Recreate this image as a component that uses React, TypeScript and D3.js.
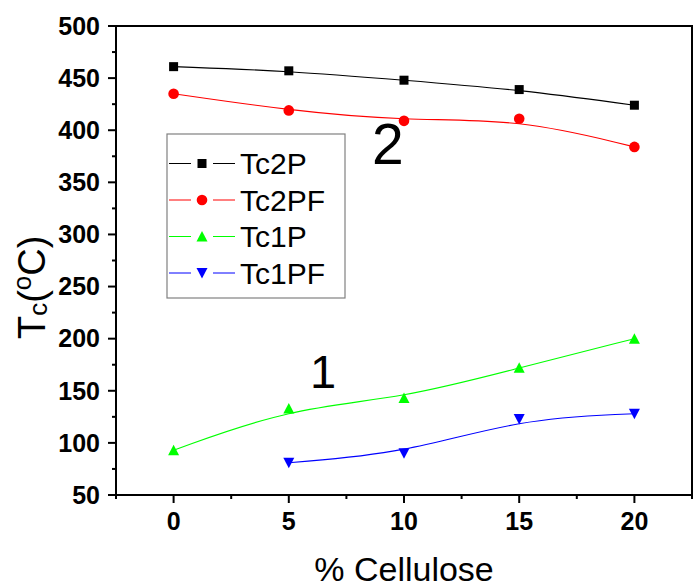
import React from "react";
import * as d3 from "d3";

const xCats = [0, 5, 10, 15, 20];
const tc2P = [461, 457, 448, 439, 424];
const tc2PF = [435, 419, 409, 411, 384];
const tc1P = [93, 133, 143, 172, 200];
const tc1PFx = [5, 10, 15, 20];
const tc1PF = [81, 90, 123, 128];
const xMajor = [0, 5, 10, 15, 20];
const xMinor = [-2.5, 2.5, 7.5, 12.5, 17.5, 22.5];
const yMajor = [50, 100, 150, 200, 250, 300, 350, 400, 450, 500];
const yMinor = [75, 125, 175, 225, 275, 325, 375, 425, 475];
const legendNames = ["Tc2P", "Tc2PF", "Tc1P", "Tc1PF"];

const W = 697;
const H = 587;
const L = 116, R = 692, T = 26, B = 495;
const FONT = "'Liberation Sans', Arial, Helvetica, sans-serif";

type Shape = "square" | "circle" | "up" | "down";

function Marker({ shape, x, y, color }: { shape: Shape; x: number; y: number; color: string }) {
  if (shape === "square") return <rect x={x - 4.5} y={y - 4.5} width={9} height={9} fill={color} />;
  if (shape === "circle") return <circle cx={x} cy={y} r={5.3} fill={color} />;
  if (shape === "up")
    return <path d={`M${x - 5.5},${y + 5} L${x + 5.5},${y + 5} L${x},${y - 5.5} Z`} fill={color} />;
  return <path d={`M${x - 5.5},${y - 5} L${x + 5.5},${y - 5} L${x},${y + 5.5} Z`} fill={color} />;
}

export default function App() {
  const xs = d3.scaleLinear().domain([-2.5, 22.5]).range([L, R]);
  const ys = d3.scaleLinear().domain([50, 500]).range([B, T]);
  const line = d3
    .line<[number, number]>()
    .x((d) => xs(d[0]))
    .y((d) => ys(d[1]))
    .curve(d3.curveBasis);

  const series: { name: string; xv: number[]; yv: number[]; color: string; shape: Shape }[] = [
    { name: legendNames[0], xv: xCats, yv: tc2P, color: "#000000", shape: "square" },
    { name: legendNames[1], xv: xCats, yv: tc2PF, color: "#ff0000", shape: "circle" },
    { name: legendNames[2], xv: xCats, yv: tc1P, color: "#00ff00", shape: "up" },
    { name: legendNames[3], xv: tc1PFx, yv: tc1PF, color: "#0000ff", shape: "down" },
  ];

  const legX = 167, legY = 134, legW = 178, legH = 164;

  return (
    <svg
      width={W}
      height={H}
      style={{ position: "absolute", left: 0, top: 0, background: "#fff" }}
      fontFamily={FONT}
    >
      <rect x={0} y={0} width={W} height={H} fill="#fff" />
      {/* data */}
      {series.map((s) => {
        const pts: [number, number][] = s.xv.map((v, i) => [v, s.yv[i]]);
        return (
          <g key={s.name}>
            <path d={line(pts) || ""} fill="none" stroke={s.color} strokeWidth={1.1} />
            {pts.map((p, i) => (
              <Marker key={i} shape={s.shape} x={xs(p[0])} y={ys(p[1])} color={s.color} />
            ))}
          </g>
        );
      })}
      {/* frame */}
      <rect x={L} y={T} width={R - L} height={B - T} fill="none" stroke="#000" strokeWidth={2} />
      {/* x ticks */}
      {xMajor.map((v) => (
        <g key={"xm" + v}>
          <line x1={xs(v)} x2={xs(v)} y1={B} y2={B + 8} stroke="#000" strokeWidth={2} />
          <text x={xs(v)} y={530} textAnchor="middle" fontSize={25} fontWeight="bold">
            {v}
          </text>
        </g>
      ))}
      {xMinor.map((v) => (
        <line key={"xn" + v} x1={xs(v)} x2={xs(v)} y1={B} y2={B + 4} stroke="#000" strokeWidth={2} />
      ))}
      {/* y ticks */}
      {yMajor.map((v) => (
        <g key={"ym" + v}>
          <line x1={L - 8} x2={L} y1={ys(v)} y2={ys(v)} stroke="#000" strokeWidth={2} />
          <text x={100} y={ys(v) + 8.8} textAnchor="end" fontSize={25} fontWeight="bold">
            {v}
          </text>
        </g>
      ))}
      {yMinor.map((v) => (
        <line key={"yn" + v} x1={L - 4} x2={L} y1={ys(v)} y2={ys(v)} stroke="#000" strokeWidth={2} />
      ))}
      {/* axis titles */}
      <text x={(L + R) / 2} y={581} textAnchor="middle" fontSize={34}>
        % Cellulose
      </text>
      <text transform="translate(45,339) rotate(-90)" fontSize={38}>
        <tspan>T</tspan>
        <tspan fontSize={26} dy={2}>c</tspan>
        <tspan fontSize={38} dy={-2}>(</tspan>
        <tspan fontSize={26} dy={-14}>o</tspan>
        <tspan fontSize={38} dy={14}>C)</tspan>
      </text>
      {/* annotations */}
      <text x={372} y={164} fontSize={57}>2</text>
      <text x={310} y={388} fontSize={47}>1</text>
      {/* legend */}
      <rect x={legX} y={legY} width={legW} height={legH} fill="#fff" stroke="#808080" strokeWidth={1.2} />
      {series.map((s, i) => {
        const cy = 163.5 + i * 36.5;
        return (
          <g key={"leg" + s.name}>
            <line x1={169} x2={191} y1={cy} y2={cy} stroke={s.color} strokeWidth={1} />
            <line x1={213} x2={235} y1={cy} y2={cy} stroke={s.color} strokeWidth={1} />
            <Marker shape={s.shape} x={202} y={cy} color={s.color} />
            <text x={240} y={cy + 10.5} fontSize={30}>
              {s.name}
            </text>
          </g>
        );
      })}
    </svg>
  );
}
